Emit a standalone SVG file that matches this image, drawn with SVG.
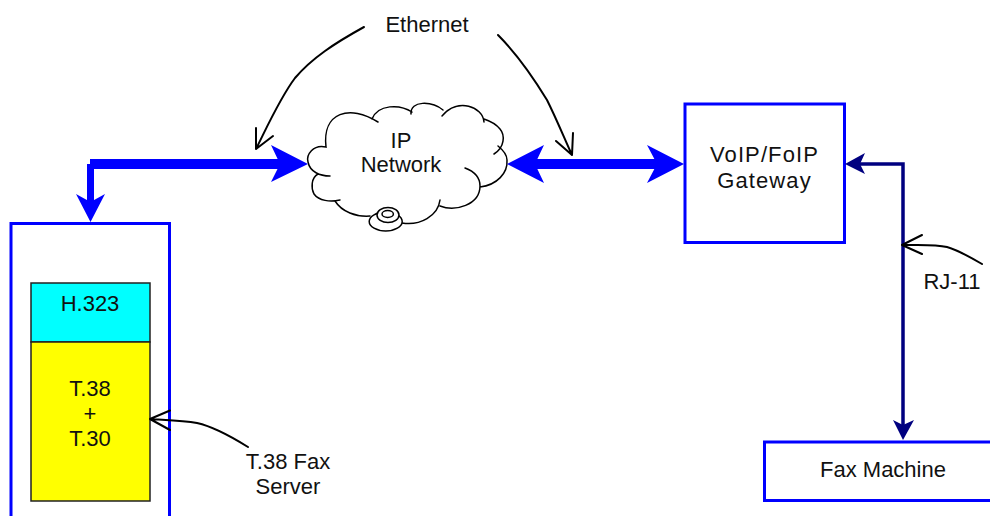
<svg xmlns="http://www.w3.org/2000/svg" width="990" height="516" viewBox="0 0 990 516">
<style>
text{font-family:"Liberation Sans",Arial,sans-serif;font-size:22px;fill:#111;text-anchor:middle}
text.wide{letter-spacing:1.1px}
.box{fill:#fff;stroke:#0000ff;stroke-width:3}
.layer{stroke:#222;stroke-width:1.5}
.cloud{fill:none;stroke:#000;stroke-width:1.5;stroke-linecap:round}
.thick{fill:#0000ff}
.navy{fill:#000080}
.navyline{fill:none;stroke:#000080;stroke-width:3.5}
.pointer{fill:none;stroke:#000;stroke-width:2;stroke-linecap:round;stroke-linejoin:round}
</style>
<rect width="990" height="516" fill="#fff"/>
<g id="fax-server">
<rect class="box" x="11" y="223.500" width="158.500" height="300"/>
<rect class="layer" x="31" y="283" width="119" height="59" fill="#00ffff"/>
<rect class="layer" x="31" y="342" width="119" height="159" fill="#ffff00"/>
<text x="90" y="311">H.323</text>
<text x="90" y="396">T.38</text>
<text x="90" y="421">+</text>
<text x="90" y="446">T.30</text>
</g>
<g id="ip-network">
<path d="M378,122 C350,104 322,112 326,147 C313,144 306,155 308,162 C310,172 320,176 330,176 M318,174 C311,178 311,188 314,194 C319,201 330,202 340,200 M335,201 C342,212 356,217 370,216 M402,223 C420,226 438,216 440,200 M440,206 C455,212 480,205 480,186 C480,177 473,171 465,168 M480,187 C497,185 508,173 507,160 C507,155 503,150 498,146 M494,154 C505,147 505,135 500,129 C496,124 490,121 484,119 M484,122 C483,107 458,97 442,116 M443,110 C432,101 410,100 411,114 M412,112 C400,104 378,104 372,119" class="cloud"/>
<ellipse cx="385.700" cy="221.500" rx="16.500" ry="9.500" fill="#fff" stroke="#000" stroke-width="1.500"/>
<ellipse cx="388" cy="215" rx="11" ry="7.500" fill="#fff" stroke="#000" stroke-width="1.500"/>
<ellipse cx="387.700" cy="214" rx="5.700" ry="3.500" fill="#fff" stroke="#000" stroke-width="1.500"/>
<text x="401" y="148">IP</text>
<text x="401" y="172">Network</text>
</g>
<g id="gateway">
<rect class="box" x="685" y="104" width="159.500" height="138.500"/>
<text class="wide" x="764.500" y="162">VoIP/FoIP</text>
<text class="wide" x="764.500" y="188">Gateway</text>
</g>
<g id="fax-machine">
<rect class="box" x="764.500" y="442" width="240" height="58.500"/>
<text x="883" y="477">Fax Machine</text>
</g>
<g id="connectors">
<rect class="thick" x="90" y="159" width="190" height="10"/>
<rect class="thick" x="87" y="164" width="7" height="38"/>
<polygon class="thick" points="308,164 271,145 280,164 271,182"/>
<polygon class="thick" points="90.500,222 76,194 90.500,202 105,194"/>
<rect class="thick" x="535" y="159" width="122" height="10"/>
<polygon class="thick" points="507,164 544,145 535,164 544,183"/>
<polygon class="thick" points="684,164 647,145 657,164 647,183"/>
<path class="navyline" d="M860,164 H903 V426"/>
<polygon class="navy" points="845,164 865,153 860,164 865,174"/>
<polygon class="navy" points="903,440 893,420 903,425 914,420"/>
<path class="pointer" d="M364,27 C335,43 312,58 295,78 C280,98 268,125 256,149 M256,128 L256,149 L273,136"/>
<path class="pointer" d="M498,35 C515,52 533,77 547,100 C557,120 565,140 572,155 M573,133 L572,155 L556,141"/>
<path class="pointer" d="M982,264 C970,257 958,250 947,247 C935,244 918,245 902,245 M922,235 L902,245 L922,254"/>
<path class="pointer" d="M248,447 C232,437 215,427 197,423 C182,420 165,420 150,419 M170,410.500 L150,419 L170,430"/>
</g>
<g id="labels">
<text x="427" y="32">Ethernet</text>
<text x="952" y="289">RJ-11</text>
<text x="288" y="469">T.38 Fax</text>
<text x="288" y="494">Server</text>
</g>
</svg>
